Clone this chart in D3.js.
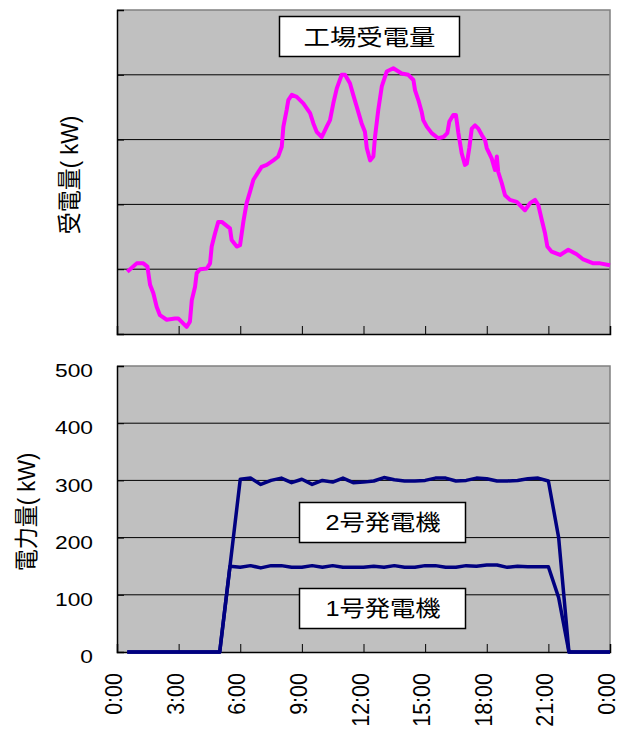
<!DOCTYPE html>
<html>
<head>
<meta charset="utf-8">
<script src="https://cdn.jsdelivr.net/npm/d3@7"></script>
<style>
  html, body { margin: 0; padding: 0; background: #fff; }
  svg { display: block; }
</style>
</head>
<body>
<svg id="chart" width="617" height="731"></svg>
<script>
// ---- data ----
const hourTicks = [0, 3, 6, 9, 12, 15, 18, 21, 24];
const hourTickLabels = ["0:00", "3:00", "6:00", "9:00", "12:00", "15:00", "18:00", "21:00", "0:00"];
const powerTicks = [0, 100, 200, 300, 400, 500];

// Received power at the plant (hour of day, kW)
const recvHour = [0.5, 0.96, 1.28, 1.48, 1.61, 1.77, 1.93, 2.09, 2.42, 2.82,
  2.98, 3.39, 3.55, 3.64, 3.80, 3.88, 4.04, 4.37, 4.53, 4.61,
  4.77, 4.93, 5.10, 5.50, 5.58, 5.83, 5.99, 6.15, 6.31, 6.48,
  6.64, 7.04, 7.29, 7.61, 7.85, 8.02, 8.10, 8.26, 8.34, 8.51,
  8.75, 9.07, 9.40, 9.56, 9.72, 9.97, 10.21, 10.37, 10.53, 10.70,
  10.94, 11.10, 11.34, 11.50, 11.67, 11.91, 12.07, 12.16, 12.32, 12.48,
  12.56, 12.72, 12.89, 13.13, 13.45, 13.86, 14.18, 14.43, 14.51, 14.67,
  14.83, 14.91, 15.08, 15.32, 15.64, 15.89, 16.08, 16.18, 16.37, 16.50,
  16.62, 16.78, 16.94, 17.03, 17.15, 17.27, 17.43, 17.59, 17.76, 17.92,
  18.00, 18.24, 18.40, 18.49, 18.56, 18.73, 18.89, 19.13, 19.46, 19.86,
  20.11, 20.35, 20.51, 20.68, 20.84, 20.95, 21.16, 21.57, 21.97, 22.38,
  22.70, 23.19, 23.52, 24.0];
const recvKW = [96, 109, 109, 104, 76, 63, 42, 29, 22, 24,
  24, 11, 19, 52, 73, 94, 100, 101, 109, 135,
  155, 173, 173, 163, 145, 135, 137, 173, 202, 220,
  238, 258, 261, 268, 274, 289, 320, 346, 361, 369,
  366, 356, 341, 325, 312, 304, 320, 330, 356, 379,
  400, 400, 387, 369, 351, 325, 312, 287, 268, 274,
  304, 346, 382, 405, 410, 402, 400, 392, 376, 361,
  343, 330, 320, 310, 302, 304, 310, 328, 338, 338,
  310, 279, 261, 263, 287, 317, 322, 317, 307, 299,
  287, 271, 253, 274, 250, 233, 214, 207, 204, 191,
  202, 207, 199, 176, 155, 135, 127, 122, 130, 123,
  115, 109, 109, 106];

// Generator output, half-hourly (hour of day, kW)
const genHour = [0.5, 1, 1.5, 2, 2.5, 3, 3.5, 4, 4.5, 5,
  5.5, 6, 6.5, 7, 7.5, 8, 8.5, 9, 9.5, 10,
  10.5, 11, 11.5, 12, 12.5, 13, 13.5, 14, 14.5, 15,
  15.5, 16, 16.5, 17, 17.5, 18, 18.5, 19, 19.5, 20,
  20.5, 21, 21.5, 22, 22.5, 23, 23.5, 24];
const gen1KW = [0, 0, 0, 0, 0, 0, 0, 0, 0, 0,
  150, 148, 151, 147, 151, 151, 148, 148, 151, 148,
  151, 148, 148, 148, 150, 148, 151, 148, 148, 151,
  151, 148, 148, 151, 150, 152, 152, 148, 150, 149,
  149, 149, 95, 0, 0, 0, 0, 0];
const gen2KW = [0, 0, 0, 0, 0, 0, 0, 0, 0, 0,
  150, 302, 304, 293, 300, 304, 296, 302, 293, 300,
  297, 304, 296, 297, 299, 305, 301, 299, 299, 300,
  304, 304, 299, 300, 304, 303, 299, 299, 300, 303,
  304, 299, 200, 0, 0, 0, 0, 0];

const chartTitle = "工場受電量";
const topAxisTitle = "受電量( kW)";
const bottomAxisTitle = "電力量( kW)";
const gen1Label = "1号発電機";
const gen2Label = "2号発電機";

// ---- layout ----
const SX = 1.2; // horizontal text stretch
const latin = "'Liberation Sans', Arial, 'Noto Sans CJK JP', sans-serif";
const cjk = "'Liberation Sans', 'Noto Sans CJK JP', sans-serif";

const svg = d3.select("#chart");
const x = d3.scaleLinear().domain([0, 24]).range([117, 610]);
const yTop = d3.scaleLinear().domain([0, 500]).range([334, 10]);
const yBot = d3.scaleLinear().domain([0, 500]).range([652, 366]);

function label(parent, px, py, str, opt) {
  const g = parent.append("g")
    .attr("transform", `translate(${px},${py}) scale(${opt.sx || SX},1)` + (opt.rotate ? ` rotate(${opt.rotate})` : ""));
  g.append("text")
    .attr("text-anchor", opt.anchor || "middle")
    .attr("dominant-baseline", "central")
    .attr("font-family", opt.family || latin)
    .attr("font-size", opt.size)
    .attr("fill", "#000")
    .text(str);
  return g;
}

function panel(y, showYLabels) {
  const [y0, y1] = y.range();
  const g = svg.append("g");
  g.append("rect")
    .attr("x", x(0)).attr("y", y1)
    .attr("width", x(24) - x(0)).attr("height", y0 - y1)
    .attr("fill", "#c0c0c0");
  // horizontal gridlines
  g.selectAll(".grid").data(powerTicks.filter(d => d > 0 && d < 500)).join("line")
    .attr("x1", x(0)).attr("x2", x(24))
    .attr("y1", d => y(d)).attr("y2", d => y(d))
    .attr("stroke", "#000").attr("stroke-width", 1);
  // plot border (top/right)
  g.append("path")
    .attr("d", `M${x(0)},${y1}H${x(24)}V${y0}`)
    .attr("fill", "none").attr("stroke", "#808080").attr("stroke-width", 1.5);
  // axes with inside ticks
  const xa = g.append("g").attr("transform", `translate(0,${y0})`)
    .call(d3.axisBottom(x).tickValues(hourTicks).tickSize(-8).tickFormat(""));
  xa.select(".domain").attr("stroke", "#000").attr("stroke-width", 1.5);
  xa.selectAll(".tick line").attr("stroke", "#000").attr("stroke-width", 1);
  const ya = g.append("g").attr("transform", `translate(${x(0)},0)`)
    .call(d3.axisLeft(y).tickValues(powerTicks).tickSize(-7).tickFormat(""));
  ya.select(".domain").attr("stroke", "#000").attr("stroke-width", 1.5);
  ya.selectAll(".tick line").attr("stroke", "#000").attr("stroke-width", 1);
  if (showYLabels) {
    powerTicks.forEach(v => label(g, 93, y(v) + 4.5, String(v), { size: 19, anchor: "end" }));
  }
  return g;
}

// ---- upper panel: received power ----
const upperPanel = panel(yTop, false);
upperPanel.append("path")
  .datum(recvHour.map((h, i) => [h, recvKW[i]]))
  .attr("d", d3.line().x(d => x(d[0])).y(d => yTop(d[1])))
  .attr("fill", "none").attr("stroke", "#ff00ff").attr("stroke-width", 4)
  .attr("stroke-linejoin", "round");

upperPanel.append("rect").attr("x", 279.5).attr("y", 16.5).attr("width", 180).attr("height", 40)
  .attr("fill", "#fff").attr("stroke", "#000").attr("stroke-width", 1.5);
label(upperPanel, 369.5, 37, chartTitle, { size: 22, sx: 1.2, family: cjk });

label(svg, 70, 175, topAxisTitle, { size: 22, sx: 1.1, rotate: -90, family: cjk });

// ---- lower panel: generator output ----
const lowerPanel = panel(yBot, true);
const genLine = d3.line().x(d => x(d[0])).y(d => yBot(d[1]));
[gen2KW, gen1KW].forEach(vals => {
  lowerPanel.append("path")
    .datum(genHour.map((h, i) => [h, vals[i]]))
    .attr("d", genLine)
    .attr("fill", "none").attr("stroke", "#000080").attr("stroke-width", 3.5)
    .attr("stroke-linejoin", "round");
});

[[gen2Label, 502], [gen1Label, 588]].forEach(([txt, by]) => {
  lowerPanel.append("rect").attr("x", 299.5).attr("y", by + 0.5).attr("width", 166).attr("height", 40)
    .attr("fill", "#fff").attr("stroke", "#000").attr("stroke-width", 1.5);
  label(lowerPanel, 383, by + 21, txt, { size: 22, sx: 1.15, family: cjk });
});

label(svg, 27, 512, bottomAxisTitle, { size: 22, sx: 1.1, rotate: -90, family: cjk });

// rotated hour labels under the lower panel
hourTicks.forEach((h, i) => {
  label(svg, x(h) - 3.5, 673, hourTickLabels[i], { size: 21.5, sx: 1.15, rotate: -90, anchor: "end" });
});
</script>
</body>
</html>
